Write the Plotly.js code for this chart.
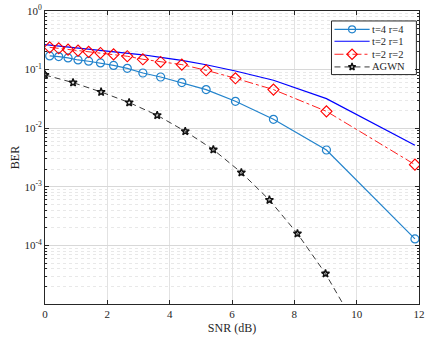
<!DOCTYPE html>
<html>
<head>
<meta charset="utf-8">
<script src="https://cdn.plot.ly/plotly-3.0.1.min.js"></script>
<style>html,body{margin:0;padding:0;background:#fff;}#chart{width:428px;height:342px;}</style>
</head>
<body>
<div id="chart"></div>
<script>
// SNR grid (dB) of the marker series
var snr = [0.15, 0.44, 0.74, 1.06, 1.40, 1.78, 2.20, 2.64, 3.14, 3.71, 4.39, 5.17, 6.11, 7.33, 9.03, 11.87];
// t=4 r=4
var ber44 = [0.171, 0.167, 0.158, 0.146, 0.139, 0.130, 0.118, 0.105, 0.0875, 0.0748, 0.060, 0.0456, 0.0288, 0.0142, 0.00425, 0.000129];
// t=2 r=1
var snr21 = [0, 0.15, 0.44, 0.74, 1.06, 1.40, 1.78, 2.20, 2.64, 3.14, 3.71, 4.39, 5.17, 6.11, 7.33, 9.03, 11.87];
var ber21 = [0.267, 0.262, 0.253, 0.244, 0.234, 0.224, 0.213, 0.201, 0.190, 0.179, 0.162, 0.144, 0.121, 0.0947, 0.0657, 0.0320, 0.0051];
// t=2 r=2
var ber22 = [0.240, 0.231, 0.219, 0.211, 0.201, 0.192, 0.182, 0.169, 0.150, 0.135, 0.1217, 0.0973, 0.0711, 0.0456, 0.0194, 0.00239];
// AWGN reference
var snrAwgn = [0, 0.9, 1.8, 2.7, 3.6, 4.5, 5.4, 6.3, 7.2, 8.1, 9.0, 9.9];
var berAwgn = [0.0809, 0.060, 0.0415, 0.0274, 0.0166, 0.00885, 0.00431, 0.00175, 0.000596, 0.000159, 0.000033, 0.0000049];
// series names
var names = ['t=4 r=4', 't=2 r=1', 't=2 r=2', 'AGWN'];
// axis ticks
var xTicks = [0, 2, 4, 6, 8, 10, 12];
var yTickVals = [1e-4, 1e-3, 1e-2, 1e-1, 1];
var yTickText = ['10<sup>-4</sup>', '10<sup>-3</sup>', '10<sup>-2</sup>', '10<sup>-1</sup>', '10<sup>0</sup>'];

var serif = 'Liberation Serif, Times New Roman, serif';
var ink = '#262626';
var styles = [
  {mode: 'lines+markers', line: {color: '#2283cc', width: 1.2},
   marker: {symbol: 'circle-open', size: 8, color: '#2283cc', line: {width: 1.2}}},
  {mode: 'lines', line: {color: '#0000ff', width: 1.2}},
  {mode: 'lines+markers', line: {color: '#ff2020', width: 1, dash: 'dashdot'},
   marker: {symbol: 'diamond-open', size: 8.5, color: '#ff0000', line: {width: 1.1}}},
  {mode: 'lines+markers', line: {color: '#222222', width: 0.9, dash: '6px,4px'},
   marker: {symbol: 'star-open', size: 6, color: '#111111', line: {width: 1.4}}}
];
var legendMarkerSize = [7, 0, 8, 5.5];
var xs = [snr, snr21, snr, snrAwgn];
var ys = [ber44, ber21, ber22, berAwgn];

var traces = [];
for (var i = 0; i < 4; i++) {
  traces.push(Object.assign({x: xs[i], y: ys[i], name: names[i], showlegend: false}, styles[i]));
}

// manual legend on an overlay axis spanning the plot area (0..1)
var lgX0 = 0.766, lgX1 = 0.993, lgY0 = 0.783, lgY1 = 0.966;
var rowY = [0.9376, 0.8967, 0.8524, 0.8091];
var sampX0 = 0.774, sampX1 = 0.868, sampXm = 0.821;
traces.push({x: [lgX0, lgX1, lgX1, lgX0, lgX0], y: [lgY0, lgY0, lgY1, lgY1, lgY0],
  xaxis: 'x2', yaxis: 'y2', mode: 'lines', fill: 'toself', fillcolor: '#ffffff',
  line: {color: ink, width: 1}, showlegend: false, hoverinfo: 'skip'});
var annotations = [];
for (var k = 0; k < 4; k++) {
  var st = styles[k];
  traces.push({x: [sampX0, sampX1], y: [rowY[k], rowY[k]], xaxis: 'x2', yaxis: 'y2',
    mode: 'lines', line: st.line, showlegend: false, hoverinfo: 'skip'});
  if (st.marker) {
    var mk = Object.assign({}, st.marker, {size: legendMarkerSize[k]});
    traces.push({x: [sampXm], y: [rowY[k]], xaxis: 'x2', yaxis: 'y2', mode: 'markers',
      marker: mk, showlegend: false, hoverinfo: 'skip'});
  }
  annotations.push({xref: 'x2', yref: 'y2', x: 0.870, y: rowY[k], text: names[k],
    showarrow: false, xanchor: 'left', yanchor: 'middle',
    font: {family: serif, size: 10.5, color: ink}});
}

var layout = {
  width: 428, height: 342,
  margin: {l: 45, r: 9, t: 11, b: 38},
  paper_bgcolor: '#fff', plot_bgcolor: '#fff',
  font: {family: serif, size: 11, color: ink},
  showlegend: false,
  annotations: annotations,
  xaxis: {
    range: [0, 12], tickvals: xTicks, ticks: 'inside', ticklen: 4, tickcolor: ink,
    showline: true, linecolor: ink, linewidth: 1, mirror: 'ticks',
    showgrid: true, gridcolor: '#e2e2e2', gridwidth: 1, zeroline: false,
    tickfont: {family: serif, size: 11, color: ink},
    title: {text: 'SNR (dB)', font: {family: serif, size: 12, color: ink}, standoff: 4}
  },
  yaxis: {
    type: 'log', range: [-5, 0], tickvals: yTickVals, ticktext: yTickText,
    ticks: 'inside', ticklen: 4, tickcolor: ink,
    showline: true, linecolor: ink, linewidth: 1, mirror: 'allticks',
    showgrid: true, gridcolor: '#d8d8d8', gridwidth: 1, zeroline: false,
    tickfont: {family: serif, size: 11, color: ink},
    minor: {dtick: 'D1', ticks: 'inside', ticklen: 2, tickcolor: ink,
            showgrid: true, gridcolor: '#e8e8e8', griddash: 'dot', gridwidth: 1},
    title: {text: 'BER', font: {family: serif, size: 12, color: ink}, standoff: 2}
  },
  xaxis2: {overlaying: 'x', anchor: 'y2', range: [0, 1], visible: false, fixedrange: true},
  yaxis2: {overlaying: 'y', anchor: 'x2', range: [0, 1], visible: false, fixedrange: true}
};

Plotly.newPlot('chart', traces, layout, {displayModeBar: false, staticPlot: true});
</script>
</body>
</html>
